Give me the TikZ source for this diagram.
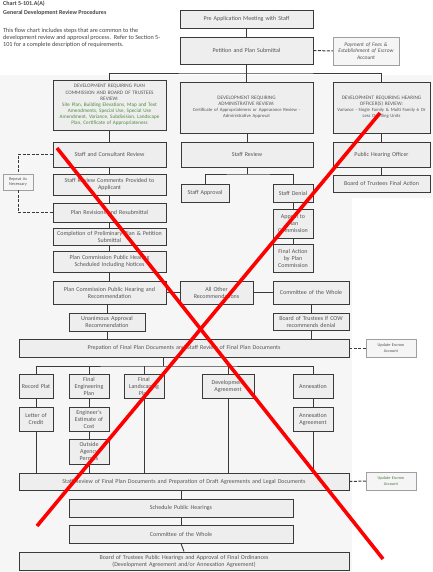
\documentclass[tikz,border=0pt]{standalone}
\usepackage{fontspec}
\setmainfont{Carlito}
\definecolor{txt}{HTML}{555555}
\definecolor{bline}{HTML}{3A3A3A}
\definecolor{bfill}{HTML}{EEEEEE}
\definecolor{panel}{HTML}{F6F6F6}
\definecolor{grn}{HTML}{4E8A3E}
\definecolor{xred}{HTML}{FF0000}
\tikzset{
 box/.style={draw=bline, fill=bfill, line width=0.9pt, text=txt, font=\fontsize{6}{7}\selectfont, align=center, inner sep=0pt},
 rbox/.style={box, font=\fontsize{5.2}{6.1}\selectfont},
 note/.style={draw=gray!75, fill=bfill!60, line width=0.5pt, text=txt, font=\fontsize{4.3}{5.1}\selectfont, align=center, inner sep=0pt},
 conn/.style={draw=bline, line width=0.9pt},
 dconn/.style={draw=bline, line width=1pt, dash pattern=on 3pt off 1.5pt},
 crossx/.style={draw=xred, line width=3.6pt},
}
\newcommand{\mkbox}[7][box]{%
 \pgfmathsetmacro\mkW{#4-#2}\pgfmathsetmacro\mkH{#5-#3}%
 \pgfmathsetmacro\mkT{#4-#2-2}%
 \pgfmathsetmacro\mkX{(#2+#4)/2}\pgfmathsetmacro\mkY{(#3+#5)/2}%
 \node[#1,minimum width=\mkW pt,minimum height=\mkH pt,text width=\mkT pt] (#6) at (\mkX,\mkY) {#7};}
\newcommand{\mkdetail}[1]{{\fontsize{4.7}{6}\selectfont #1}}
\begin{document}
\begin{tikzpicture}[x=1pt,y=-1pt]
\useasboundingbox (0,0) rectangle (432,572);
\fill[white] (0,0) rectangle (432,572);
\fill[panel] (0,75) rectangle (352,572);
\fill[panel] (330,75) rectangle (432,198);

% title and description
\node[anchor=north west, font=\bfseries\fontsize{6}{9}\selectfont, text=txt!80!black, align=left, inner sep=0pt] (title) at (3,1) {Chart 5-101.A(A)\\General Development Review Procedures};
\node[anchor=north west, font=\fontsize{6.2}{7.2}\selectfont, text=txt!80!black, align=left, inner sep=0pt] (para) at (3,28) {This flow chart includes steps that are common to the\\development review and approval process.\ \ Refer to Section 5-\\101 for a complete description of requirements.};

% top
\mkbox{180}{10}{313}{28}{pre}{Pre Application Meeting with Staff}
\mkbox{180}{37}{313}{64}{pet}{Petition and Plan Submittal}
\mkbox[note,font=\itshape\fontsize{5.5}{6.6}\selectfont]{333}{37}{399}{65}{pay}{Payment of Fees \&\\Establishment of Escrow\\Account}

% review types
\mkbox[rbox]{53}{80}{166}{130}{lrev}{DEVELOPMENT REQUIRING PLAN\\COMMISSION AND BOARD OF TRUSTEES\\REVIEW:\\{\color{grn}Site Plan, Building Elevations, Map and Text\\Amendments, Special Use, Special Use\\Amendment, Variance, Subdivision, Landscape\\Plan, Certificate of Appropriateness}}
\mkbox[rbox]{180}{82}{313}{133}{mrev}{DEVELOPMENT REQUIRING\\ADMINISTRATIVE REVIEW:\\\mkdetail{Certificate of Appropriateness or Appearance Review -\\Administrative Approval}}
\mkbox[rbox]{333}{82}{430}{133}{rrev}{DEVELOPMENT REQUIRING HEARING\\OFFICER(S) REVIEW:\\\mkdetail{Variance - Single Family \& Multi Family 6 Or\\Less Dwelling Units}}

% left column
\mkbox{53}{142}{166}{167}{scr}{Staff and Consultant Review}
\mkbox{53}{174}{166}{195}{src}{Staff Review Comments Provided to\\Applicant}
\mkbox{53}{203}{166}{222}{prr}{Plan Revisions and Resubmittal}
\mkbox{53}{228}{166}{245}{comp}{Completion of Preliminary Plan \& Petition\\Submittal}
\mkbox{53}{251}{166}{272}{pcs}{Plan Commission Public Hearing\\Scheduled Including Notices}
\mkbox[note]{3}{174}{33}{190}{rep}{Repeat As\\Necessary}
\mkbox{53}{281}{166}{304}{pch}{Plan Commission Public Hearing and\\Recommendation}
\mkbox{180}{281}{253}{304}{allo}{All Other\\Recommendations}
\mkbox{273}{281}{349}{304}{cow}{Committee of the Whole}
\mkbox{273}{313}{349}{330}{bot}{Board of Trustees if COW\\recommends denial}
\mkbox{69}{313}{145}{331}{una}{Unanimous Approval\\Recommendation}
\mkbox{19}{339}{349}{357}{prep}{Prepation of Final Plan Documents and Staff Review of Final Plan Documents}
\mkbox[note]{366}{339}{416}{357}{upd1}{Update Escrow\\Account}

% middle and right columns
\mkbox{181}{142}{313}{167}{sr}{Staff Review}
\mkbox{181}{184}{229}{202}{sa}{Staff Approval}
\mkbox{273}{184}{313}{202}{sd}{Staff Denial}
\mkbox{273}{209}{313}{238}{ap}{Appeal to\\Plan\\Commission}
\mkbox{273}{244}{313}{272}{fa}{Final Action\\by Plan\\Commission}
\mkbox{333}{142}{430}{167}{pho}{Public Hearing Officer}
\mkbox{333}{175}{430}{192}{btf}{Board of Trustees Final Action}

% final documents
\mkbox{19}{374}{53}{398}{rp}{Record Plat}
\mkbox{69}{374}{109}{398}{fe}{Final\\Engineering\\Plan}
\mkbox{124}{374}{164}{398}{fl}{Final\\Landscaping\\Plan}
\mkbox{202}{374}{254}{398}{da}{Development\\Agreement}
\mkbox{293}{374}{333}{398}{ann}{Annexation}
\mkbox{19}{407}{53}{431}{loc}{Letter of\\Credit}
\mkbox{69}{407}{109}{431}{ee}{Engineer's\\Estimate of\\Cost}
\mkbox{69}{439}{109}{464}{oa}{Outside\\Agency\\Permits}
\mkbox{293}{407}{333}{431}{aa}{Annexation\\Agreement}
\mkbox{19}{473}{349}{490}{srf}{Staff Review of Final Plan Documents and Preparation of Draft Agreements and Legal Documents}
\mkbox[note,text=grn!70!txt]{366}{472}{416}{490}{upd2}{Update Escrow\\Account}
\mkbox{69}{499}{293}{517}{sph}{Schedule Public Hearings}
\mkbox{69}{525}{293}{543}{cw2}{Committee of the Whole}
\mkbox{19}{552}{349}{570}{bt}{Board of Trustees Public Hearings and Approval of Final Ordinances\\(Development Agreement and/or Annexation Agreement)}

% junction points
\coordinate (j1) at (246.5,73);
\coordinate (j2) at (247,174);
\coordinate (j3) at (163,366);

% connectors
\draw[conn] (pre.south) -- (pet.north);
\draw[dconn] (pet.east) -- (pay.west);
\draw[conn] (pet.south) -- (mrev.north);
\draw[conn] (lrev.north) |- (j1) -| (rrev.north);
\draw[conn] (lrev.south) -- (scr.north);
\draw[conn] (scr.south) -- (src.north);
\draw[conn] (src.south) -- (prr.north);
\draw[conn] (prr.south) -- (comp.north);
\draw[conn] (comp.south) -- (pcs.north);
\draw[conn] (pcs.south) -- (pch.north);
\draw[dconn] (scr.west) -| (rep.north);
\draw[dconn] (rep.south) |- (prr.west);
\draw[conn] (pch.east) -- (allo.west);
\draw[conn] (allo.east) -- (cow.west);
\draw[conn] (cow.south) -- (bot.north);
\draw[conn] (bot.south) -- (bot.south |- prep.north);
\draw[conn] (pch.south -| una.north) -- (una.north);
\draw[conn] (una.south) -- (una.south |- prep.north);
\draw[dconn] (prep.east) -- (upd1.west);
\draw[conn] (mrev.south -| sr.north) -- (sr.north);
\draw[conn] (sr.south) -- (j2);
\draw[conn] (sa.north) |- (j2) -| (sd.north);
\draw[conn] (sd.south) -- (ap.north);
\draw[conn] (ap.south) -- (fa.north);
\draw[conn] (rrev.south) -- (pho.north);
\draw[conn] (pho.south) -- (btf.north);
\draw[conn] (prep.south -| j3) -- (j3);
\draw[conn] (rp.north) |- (j3) -| (ann.north);
\draw[conn] (fe.north) -- (fe.north |- j3);
\draw[conn] (fl.north) -- (fl.north |- j3);
\draw[conn] (da.north) -- (da.north |- j3);
\draw[conn] (rp.south) -- (loc.north);
\draw[conn] (loc.south) -- (loc.south |- srf.north);
\draw[conn] (fe.south) -- (ee.north);
\draw[conn] (ee.south) -- (oa.north);
\draw[conn] (oa.south) -- (oa.south |- srf.north);
\draw[conn] (fl.south) -- (fl.south |- srf.north);
\draw[conn] (da.south) -- (da.south |- srf.north);
\draw[conn] (ann.south) -- (aa.north);
\draw[conn] (aa.south) -- (aa.south |- srf.north);
\draw[dconn] (srf.east) -- (upd2.west);
\draw[conn] (sph.north) -- (sph.north |- srf.south);
\draw[conn] (sph.south) -- (cw2.north);
\draw[conn] (cw2.south) -- (bt.north);

% red cross
\coordinate (xa) at (57,148);
\coordinate (xb) at (383,559);
\coordinate (xc) at (380,113);
\coordinate (xd) at (37,526);
\draw[crossx] (xa) -- (xb);
\draw[crossx] (xc) -- (xd);
\end{tikzpicture}
\end{document}
